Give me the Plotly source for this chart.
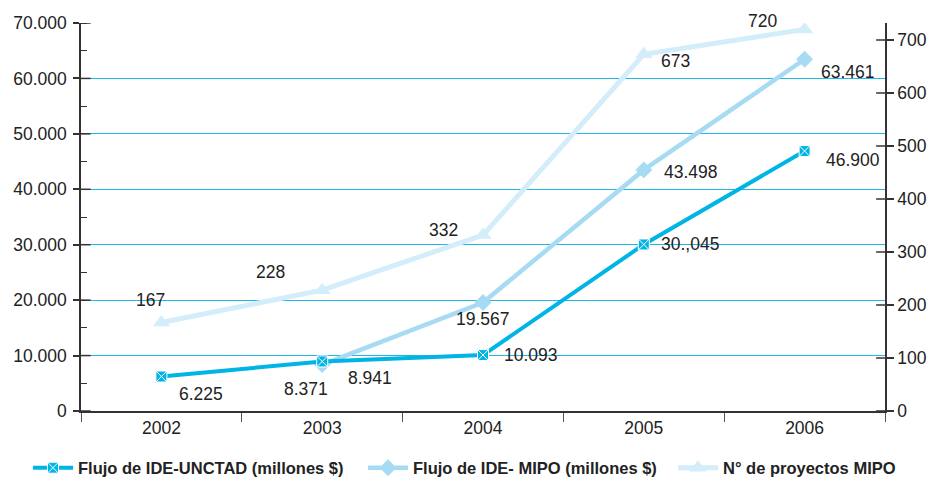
import plotly.graph_objects as go

years = ["2002", "2003", "2004", "2005", "2006"]
unctad = [6225, 8941, 10093, 30045, 46900]
unctad_labels = ["6.225", "8.941", "10.093", "30.,045", "46.900"]
mipo_years = ["2003", "2004", "2005", "2006"]
mipo = [8371, 19567, 43498, 63461]
mipo_labels = ["8.371", "19.567", "43.498", "63.461"]
proyectos = [167, 228, 332, 673, 720]
proyectos_labels = ["167", "228", "332", "673", "720"]
left_ticks = [0, 10000, 20000, 30000, 40000, 50000, 60000, 70000]
left_ticktext = ["0", "10.000", "20.000", "30.000", "40.000", "50.000", "60.000", "70.000"]
right_ticks = [0, 100, 200, 300, 400, 500, 600, 700]

C1 = "#00b4e6"
C2 = "#a6dbf3"
C3 = "#d3edfa"
FONT = "Liberation Sans, Arial, sans-serif"

fig = go.Figure()
fig.add_trace(go.Scatter(
    x=years, y=proyectos, name="N° de proyectos MIPO", yaxis="y2", legend="legend3",
    mode="lines+markers", line=dict(color=C3, width=5),
    marker=dict(symbol="triangle-up", size=15, color=C3)))
fig.add_trace(go.Scatter(
    x=mipo_years, y=mipo, name="Flujo de IDE- MIPO (millones $)", legend="legend2",
    mode="lines+markers", line=dict(color=C2, width=4.5),
    marker=dict(symbol="diamond", size=13, color=C2)))
fig.add_trace(go.Scatter(
    x=years, y=unctad, name="Flujo de IDE-UNCTAD (millones $)", legend="legend",
    mode="lines+markers", line=dict(color=C1, width=4),
    marker=dict(symbol="square-x", size=11, color=C1, line=dict(color="white", width=1))))

def xi(x):
    return years.index(x)

ann = []
u_off = [(40, 17), (48, 17), (48, 0), (46, 0), (48, 9)]
for x, y, t, (dx, dy) in zip(years, unctad, unctad_labels, u_off):
    ann.append(dict(x=xi(x), y=y, xref="x", yref="y", text=t, showarrow=False,
                    xshift=dx, yshift=-dy))
m_off = [(-16, 24), (0, 16), (47, 2), (43, 13)]
for x, y, t, (dx, dy) in zip(mipo_years, mipo, mipo_labels, m_off):
    ann.append(dict(x=xi(x), y=y, xref="x", yref="y", text=t, showarrow=False,
                    xshift=dx, yshift=-dy))
p_off = [(-11, -22), (-52, -18), (-40, -5), (32, 7), (-42, -8)]
for x, y, t, (dx, dy) in zip(years, proyectos, proyectos_labels, p_off):
    ann.append(dict(x=xi(x), y=y, xref="x", yref="y2", text=t, showarrow=False,
                    xshift=dx, yshift=-dy))

shapes = []
for v in left_ticks:
    shapes.append(dict(type="line", xref="paper", yref="y", x0=0, x1=0.012, y0=v, y1=v,
                       line=dict(color="#333333", width=1.5), layer="above"))
for v in right_ticks:
    shapes.append(dict(type="line", xref="paper", yref="y2", x0=0.989, x1=1, y0=v, y1=v,
                       line=dict(color="#333333", width=1.5), layer="above"))

def leg(xpx):
    return dict(orientation="h", x=xpx / 932, xref="container", xanchor="left",
                y=0.023, yref="container", yanchor="middle",
                font=dict(family=FONT, size=16.5, color="#222222", weight="bold"),
                itemwidth=40, bgcolor="rgba(0,0,0,0)")

fig.update_layout(
    width=932, height=479,
    margin=dict(l=81, r=47, t=23, b=68, autoexpand=False),
    paper_bgcolor="white", plot_bgcolor="white",
    font=dict(family=FONT, size=17.5, color="#222222"),
    separators=",.",
    showlegend=True,
    legend=leg(28), legend2=leg(363), legend3=leg(673),
    xaxis=dict(type="category", range=[-0.5, 4.5], tickson="boundaries",
               ticks="outside", ticklen=9, tickcolor="#555555", tickwidth=1,
               showline=True, linecolor="#333333", linewidth=1.5,
               showgrid=False, zeroline=False, tickfont=dict(size=17.5)),
    yaxis=dict(range=[0, 70000], tickvals=left_ticks, ticktext=left_ticktext,
               ticks="outside", ticklen=6, tickcolor="#333333", tickwidth=1.5,
               ticklabelstandoff=3,
               minor=dict(ticks="inside", dtick=5000, tick0=0, ticklen=6,
                          tickcolor="#333333", tickwidth=1, showgrid=False),
               showline=True, linecolor="#333333", linewidth=1.5,
               showgrid=True, gridcolor="#22b5e8", gridwidth=1, zeroline=False,
               tickfont=dict(size=17.5)),
    yaxis2=dict(range=[0, 700 * 388 / 371], overlaying="y", side="right",
                tickvals=right_ticks, ticks="outside", ticklen=7,
                tickcolor="#333333", tickwidth=1.5,
                showline=True, linecolor="#333333", linewidth=1.5,
                showgrid=False, zeroline=False, tickfont=dict(size=17.5)),
    annotations=ann, shapes=shapes,
)

fig.write_html("out.html")
